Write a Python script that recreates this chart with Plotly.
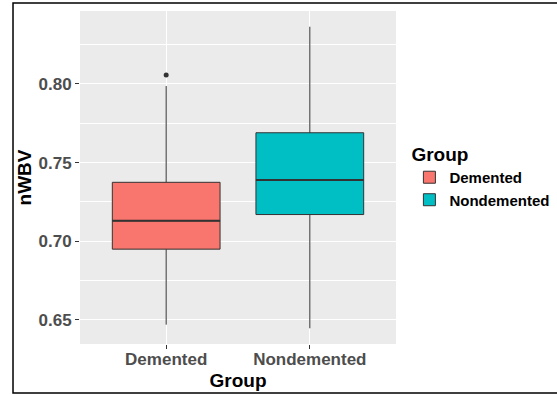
import plotly.graph_objects as go

# Summary statistics of normalised whole-brain volume by group
groups = ["Demented", "Nondemented"]
positions = [1, 2]
q1 = [0.695, 0.717]
median = [0.713, 0.739]
q3 = [0.7375, 0.769]
lower_fence = [0.647, 0.6447]
upper_fence = [0.7987, 0.8364]
outliers = {"Demented": [0.8057], "Nondemented": []}
fill_colors = ["#F8766D", "#00BFC4"]
y_ticks = [0.65, 0.70, 0.75, 0.80]
y_tick_labels = ["0.65", "0.70", "0.75", "0.80"]

BOX_WIDTH = 0.75
LINE = "#333333"

fig = go.Figure()

for g, pos, a, m, b, lo, hi, col in zip(groups, positions, q1, median, q3,
                                       lower_fence, upper_fence, fill_colors):
    fig.add_trace(go.Box(
        name=g, x=[pos], q1=[a], median=[m], q3=[b],
        lowerfence=[lo], upperfence=[hi],
        width=BOX_WIDTH, whiskerwidth=0,
        fillcolor=col, line=dict(color=LINE, width=1),
        boxpoints=False, hoverinfo="skip", showlegend=True,
    ))
    # thicker median bar
    fig.add_trace(go.Scatter(
        x=[pos - BOX_WIDTH / 2, pos + BOX_WIDTH / 2], y=[m, m],
        mode="lines", line=dict(color=LINE, width=2),
        showlegend=False, hoverinfo="skip",
    ))
    pts = outliers[g]
    if pts:
        fig.add_trace(go.Scatter(
            x=[pos] * len(pts), y=pts, mode="markers",
            marker=dict(color=LINE, size=5),
            showlegend=False, hoverinfo="skip",
        ))

tick_font = dict(family="Liberation Sans, Arial, sans-serif", size=17,
                 color="#4D4D4D", weight="bold")
title_font = dict(family="Liberation Sans, Arial, sans-serif", size=19,
                  color="black", weight="bold")

fig.update_layout(
    template="none",
    width=557, height=395,
    autosize=False,
    margin=dict(l=80, r=161, t=11, b=51, autoexpand=False),
    paper_bgcolor="white", plot_bgcolor="#EBEBEB",
    boxmode="overlay",
    showlegend=True,
    legend=dict(
        title=dict(text="Group", font=title_font),
        font=dict(family="Liberation Sans, Arial, sans-serif", size=15,
                  color="black", weight="bold"),
        xref="container", yref="container",
        x=0.735, xanchor="left", y=0.655, yanchor="top",
        bgcolor="rgba(0,0,0,0)", tracegroupgap=0, borderwidth=0,
    ),
    xaxis=dict(
        range=[0.4, 2.6], tickvals=positions, ticktext=groups,
        showgrid=True, gridcolor="white", gridwidth=1.1, zeroline=False,
        showline=False, automargin=False,
        ticks="outside", ticklen=4, tickwidth=1, tickcolor=LINE,
        tickfont=tick_font, ticklabelstandoff=-4,
        title=dict(text="Group", font=title_font, standoff=5),
    ),
    yaxis=dict(
        range=[0.6347, 0.8464], tickvals=y_ticks, ticktext=y_tick_labels,
        showgrid=True, gridcolor="white", gridwidth=1.1, zeroline=False,
        showline=False, automargin=False,
        ticks="outside", ticklen=4, tickwidth=1, tickcolor=LINE,
        tickfont=tick_font,
        minor=dict(dtick=0.05, tick0=0.625, showgrid=True,
                   gridcolor="white", gridwidth=0.5, ticks=""),
        title=dict(text="nWBV", font=title_font, standoff=1),
    ),
    shapes=[dict(type="rect", xref="paper", yref="paper",
                 x0=-0.212, x1=1.55, y0=-0.147, y1=1.024,
                 line=dict(color="black", width=1.5), fillcolor="rgba(0,0,0,0)",
                 layer="below")],
)

fig.write_html("out.html")
